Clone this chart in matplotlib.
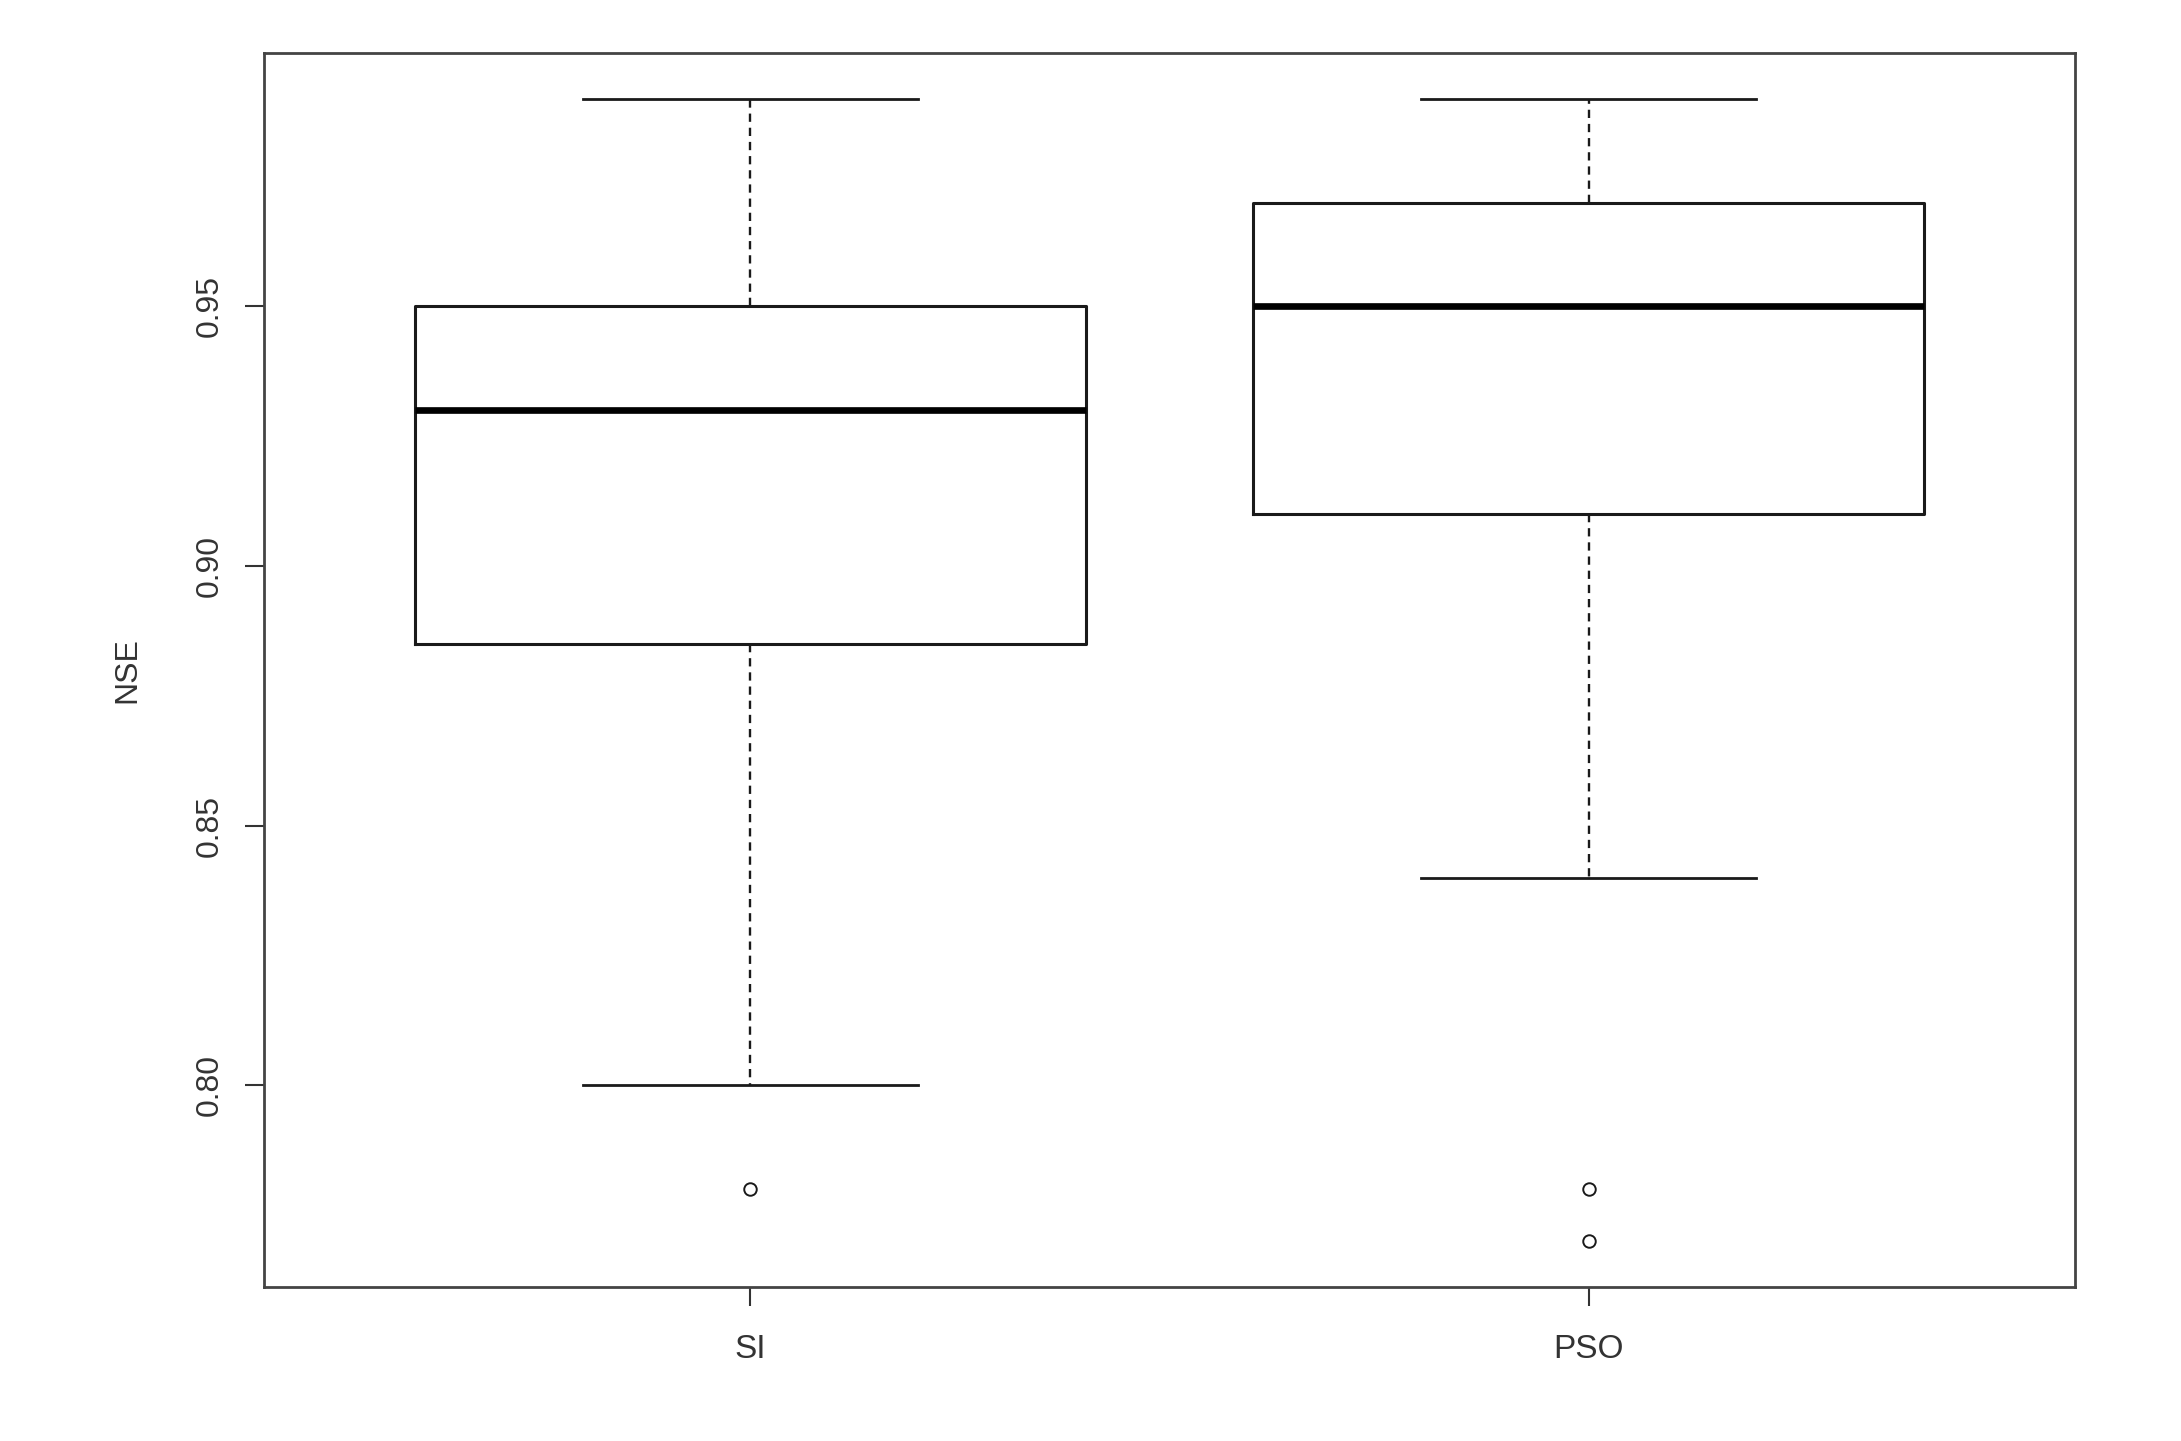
import matplotlib
matplotlib.use("Agg")
import matplotlib.pyplot as plt

categories = ["SI", "PSO"]
whisker_low = [0.80, 0.84]
q1 = [0.885, 0.91]
median = [0.93, 0.95]
q3 = [0.95, 0.97]
whisker_high = [0.99, 0.99]
outliers = [[0.78], [0.78, 0.77]]
yticks = [0.80, 0.85, 0.90, 0.95]
ylabel = "NSE"

plt.rcParams['font.family'] = ['Liberation Sans', 'DejaVu Sans']
fig = plt.figure(figsize=(21.81, 14.41), dpi=100)
ax = fig.add_axes([264/2181, 1 - 1287/1441, (2075-264)/2181, (1287-53)/1441])

stats = []
for i, c in enumerate(categories):
    stats.append(dict(label=c, whislo=whisker_low[i], q1=q1[i], med=median[i],
                      q3=q3[i], whishi=whisker_high[i], fliers=outliers[i]))

lc = '#1a1a1a'
ax.bxp(stats, positions=[1, 2], widths=0.8, showfliers=True,
       boxprops=dict(color=lc, linewidth=2.2),
       medianprops=dict(color='#000000', linewidth=4.8, solid_capstyle='butt'),
       whiskerprops=dict(color=lc, linewidth=1.7, linestyle=(0, (3.5, 2.5))),
       capprops=dict(color=lc, linewidth=2.0),
       capwidths=0.4,
       flierprops=dict(marker='o', markerfacecolor='none', markeredgecolor=lc,
                       markersize=9, markeredgewidth=1.4))

ax.set_xlim(0.42, 2.58)
ax.set_ylim(0.7612, 0.9988)
ax.set_yticks(yticks)
ax.set_yticklabels([f"{v:.2f}" for v in yticks], rotation=90, va='center', fontsize=23, color='#333333')
ax.set_xticks([1, 2])
ax.set_xticklabels(categories, fontsize=24, color='#333333')
ax.tick_params(axis='both', direction='out', length=14, width=1.5, color='#333333')
ax.tick_params(axis='y', pad=14)
ax.tick_params(axis='x', pad=20)
for s in ax.spines.values():
    s.set_linewidth(2.0)
    s.set_color('#444444')
ax.set_ylabel(ylabel, fontsize=23, color='#333333', labelpad=38)

fig.savefig("out.png", dpi=100, facecolor='white')
